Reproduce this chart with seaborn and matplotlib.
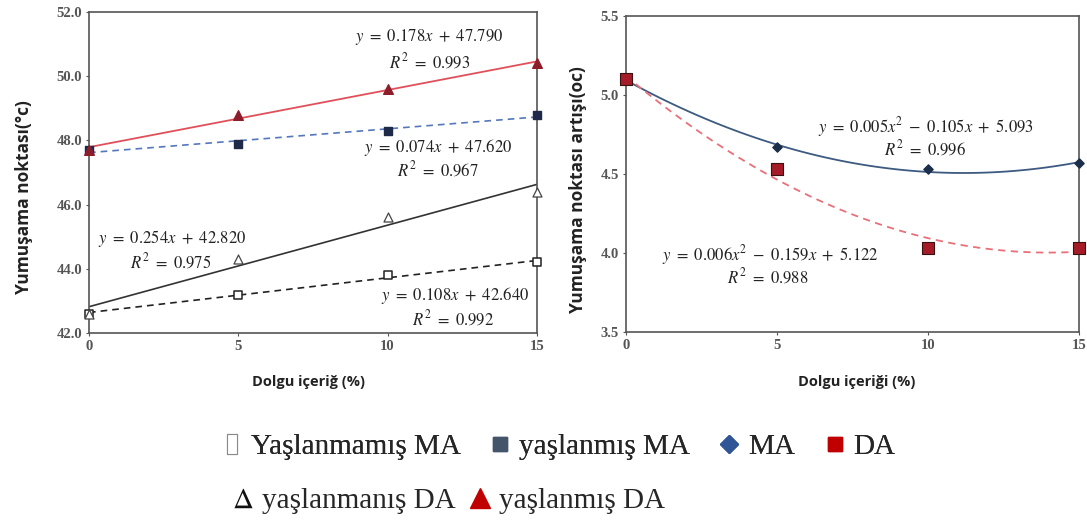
import numpy as np
import pandas as pd
import seaborn as sns
import matplotlib.pyplot as plt
from matplotlib.lines import Line2D

# filler content (%)
dolgu = [0, 5, 10, 15]
# left panel: softening point (°C)
yaslanmamis_ma = [42.6, 43.2, 43.8, 44.2]
yaslanmis_ma = [47.7, 47.9, 48.3, 48.8]
yaslanmamis_da = [42.6, 44.3, 45.6, 46.4]
yaslanmis_da = [47.7, 48.8, 49.6, 50.4]
# right panel: increase of softening point after ageing
artis_ma = [5.1, 4.67, 4.53, 4.57]
artis_da = [5.1, 4.53, 4.03, 4.03]

left_ticks = [42.0, 44.0, 46.0, 48.0, 50.0, 52.0]
right_ticks = [3.5, 4.0, 4.5, 5.0, 5.5]
x_ticks = [0, 5, 10, 15]

sns.set_style('white')
plt.rcParams['font.family'] = ['Open Sans', 'DejaVu Sans']
plt.rcParams['mathtext.fontset'] = 'stix'

fig = plt.figure(figsize=(10.87, 5.22), dpi=100)
ax1 = fig.add_axes([0.0819, 0.362, 0.412, 0.615])
ax2 = fig.add_axes([0.5759, 0.364, 0.4167, 0.605])

# ---- left panel
sns.regplot(x=dolgu, y=yaslanmamis_ma, ax=ax1, ci=None, color='#222222', marker='s',
            scatter_kws=dict(s=36, facecolors='white', linewidths=1.1, alpha=1, zorder=4, clip_on=False),
            line_kws=dict(lw=1.2, ls=(0, (4, 3))))
sns.regplot(x=dolgu, y=yaslanmamis_da, ax=ax1, ci=None, color='#444444', marker='^',
            scatter_kws=dict(s=42, facecolors='white', linewidths=0.9, alpha=1, zorder=4, clip_on=False),
            line_kws=dict(lw=1.2, color='#333333'))
sns.regplot(x=dolgu, y=yaslanmis_ma, ax=ax1, ci=None, color='#1e2a48', marker='s',
            scatter_kws=dict(s=34, alpha=1, zorder=4, clip_on=False),
            line_kws=dict(lw=1.2, color='#5577bb', ls=(0, (4, 3))))
sns.regplot(x=dolgu, y=yaslanmis_da, ax=ax1, ci=None, color='#8e1d2c', marker='^',
            scatter_kws=dict(s=48, alpha=1, zorder=4, clip_on=False),
            line_kws=dict(lw=1.3, color='#e0505a'))

eq_kw = dict(fontsize=12, ha='center', va='center', color='#222222')
ax1.text(11.4, 51.22, r'$y\ =\ 0.178x\ +\ 47.790$', **eq_kw)
ax1.text(11.4, 50.44, r'$R^2\ =\ 0.993$', **eq_kw)
ax1.text(11.7, 47.79, r'$y\ =\ 0.074x\ +\ 47.620$', **eq_kw)
ax1.text(11.7, 47.06, r'$R^2\ =\ 0.967$', **eq_kw)
ax1.text(2.77, 44.93, r'$y\ =\ 0.254x\ +\ 42.820$', **eq_kw)
ax1.text(2.73, 44.2, r'$R^2\ =\ 0.975$', **eq_kw)
ax1.text(12.25, 43.16, r'$y\ =\ 0.108x\ +\ 42.640$', **eq_kw)
ax1.text(12.2, 42.44, r'$R^2\ =\ 0.992$', **eq_kw)

ax1.set_ylim(42, 52)
ax1.set_yticks(left_ticks)
ax1.set_yticklabels([f'{t:.1f}' for t in left_ticks])

# ---- right panel
sns.regplot(x=dolgu, y=artis_ma, ax=ax2, ci=None, order=2, color='#1c2e4a', marker='D',
            scatter_kws=dict(s=22, alpha=1, zorder=4, clip_on=False),
            line_kws=dict(lw=1.3, color='#3d5a80'))
sns.regplot(x=dolgu, y=artis_da, ax=ax2, ci=None, order=2, color='#a51c28', marker='s',
            scatter_kws=dict(s=70, alpha=1, edgecolors='#3a1010', linewidths=0.8, zorder=5, clip_on=False),
            line_kws=dict(lw=1.3, color='#e8707a', ls=(0, (4, 3))))

ax2.text(9.92, 4.80, r'$y\ =\ 0.005x^2\ -\ 0.105x\ +\ 5.093$', **eq_kw)
ax2.text(9.92, 4.656, r'$R^2\ =\ 0.996$', **eq_kw)
ax2.text(4.77, 3.99, r'$y\ =\ 0.006x^2\ -\ 0.159x\ +\ 5.122$', **eq_kw)
ax2.text(4.71, 3.85, r'$R^2\ =\ 0.988$', **eq_kw)

ax2.set_ylim(3.5, 5.5)
ax2.set_yticks(right_ticks)
ax2.set_yticklabels([f'{t:.1f}' for t in right_ticks])

for ax in (ax1, ax2):
    ax.set_xlim(0, 15)
    ax.set_xticks(x_ticks)
    ax.tick_params(bottom=True, left=True, length=2, width=0.8, color='#555555',
                   labelcolor='#555555', labelsize=10.5, pad=3)
    for lbl in ax.get_xticklabels() + ax.get_yticklabels():
        lbl.set_family('Liberation Serif')
        lbl.set_weight('bold')
    for sp in ax.spines.values():
        sp.set_color('#555555')
        sp.set_linewidth(1.2)

lab_kw = dict(fontweight='bold', color='#222222')
ax1.set_xlabel('Dolgu içeriğ (%)', fontsize=10.5, **lab_kw)
ax2.set_xlabel('Dolgu içeriği (%)', fontsize=10.5, **lab_kw)
ax1.set_ylabel('Yumuşama noktası(°c)', fontsize=12.5, **lab_kw)
ax2.set_ylabel('Yumuşama noktası artışı(oc)', fontsize=12.5, **lab_kw)
ax1.xaxis.set_label_coords(0.49, -0.153)
ax2.xaxis.set_label_coords(0.51, -0.158)
ax1.yaxis.set_label_coords(-0.145, 0.424)
ax2.yaxis.set_label_coords(-0.106, 0.45)
for lab in (ax1.xaxis.label, ax2.xaxis.label, ax1.yaxis.label, ax2.yaxis.label):
    lab.set_va('center')

# ---- legend below the panels
leg_font = dict(family='Liberation Serif', size=21)
tofu = [(-0.5, -1), (0.5, -1), (0.5, 1), (-0.5, 1), (-0.5, -1)]
row1 = [
    Line2D([], [], ls='none', marker=tofu, ms=14, mfc='white', mec='#8a8a8a', mew=0.8),
    Line2D([], [], ls='none', marker='s', ms=9.5, color='#44546a'),
    Line2D([], [], ls='none', marker='D', ms=9.5, color='#2f5597'),
    Line2D([], [], ls='none', marker='s', ms=9.5, color='#c00000'),
]
row2 = [
    Line2D([], [], ls='none', marker=r'$\Delta$', ms=14, mew=0, color='#111111'),
    Line2D([], [], ls='none', marker='^', ms=14, color='#c00000'),
]
leg1 = fig.legend(row1, ['Yaşlanmamış MA', 'yaşlanmış MA', 'MA', 'DA'], ncol=4,
                  loc='center', bbox_to_anchor=(0.514, 0.144), frameon=False,
                  prop=leg_font, handlelength=0.7, handletextpad=0.3, columnspacing=1.0)
fig.legend(row2, ['yaşlanmanış DA', 'yaşlanmış DA'], ncol=2,
           loc='center', bbox_to_anchor=(0.413, 0.040), frameon=False,
           prop=leg_font, handlelength=0.7, handletextpad=0.3, columnspacing=0.5)
fig.add_artist(leg1)

fig.savefig('out.png', dpi=100)
